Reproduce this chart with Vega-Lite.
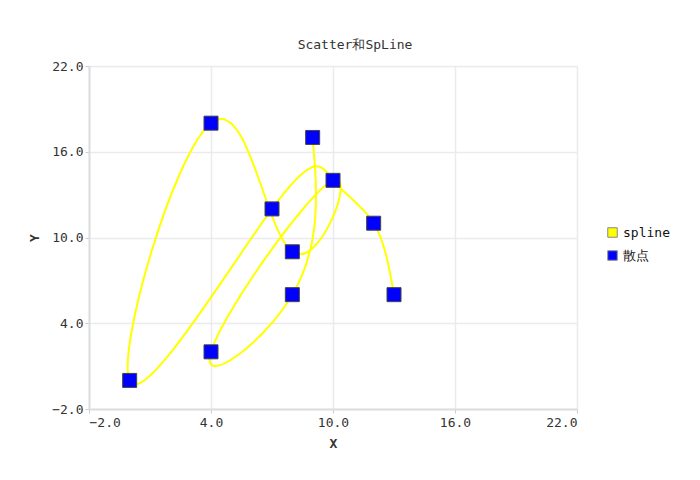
{
  "$schema": "https://vega.github.io/schema/vega-lite/v6.json",
  "autosize": "none",
  "width": 488,
  "height": 343,
  "padding": {"left": 89, "top": 66, "right": 123, "bottom": 71},
  "background": "white",
  "config": {
    "font": "DejaVu Sans Mono",
    "view": {"stroke": null},
    "axis": {
      "labelFont": "DejaVu Sans Mono",
      "labelFontSize": 13,
      "labelColor": "#333333",
      "titleFont": "DejaVu Sans Mono",
      "titleFontSize": 13,
      "titleFontWeight": "bold",
      "titleColor": "#333333",
      "gridColor": "#ebebeb",
      "gridWidth": 1.5,
      "domainColor": "#dddddd",
      "domainWidth": 2,
      "tickColor": "#cccccc",
      "tickSize": 4
    }
  },
  "title": {"text": "Scatter和SpLine", "font": "DejaVu Sans Mono", "fontSize": 13, "fontWeight": "normal", "color": "#333333", "anchor": "middle", "dx": 22, "offset": 8},
  "datasets": {
    "spline": [
      {"i": 1, "x": 9, "y": 17, "series": "spline"},
      {"i": 2, "x": 8, "y": 6, "series": "spline"},
      {"i": 3, "x": 4, "y": 2, "series": "spline"},
      {"i": 4, "x": 10, "y": 14, "series": "spline"},
      {"i": 5, "x": 8, "y": 9, "series": "spline"},
      {"i": 6, "x": 4, "y": 18, "series": "spline"},
      {"i": 7, "x": 0, "y": 0, "series": "spline"},
      {"i": 8, "x": 7, "y": 12, "series": "spline"},
      {"i": 9, "x": 10, "y": 14, "series": "spline"},
      {"i": 10, "x": 12, "y": 11, "series": "spline"},
      {"i": 11, "x": 13, "y": 6, "series": "spline"}
    ],
    "scatter": [
      {"x": 0, "y": 0, "series": "散点"},
      {"x": 4, "y": 18, "series": "散点"},
      {"x": 4, "y": 2, "series": "散点"},
      {"x": 7, "y": 12, "series": "散点"},
      {"x": 8, "y": 9, "series": "散点"},
      {"x": 8, "y": 6, "series": "散点"},
      {"x": 9, "y": 17, "series": "散点"},
      {"x": 10, "y": 14, "series": "散点"},
      {"x": 12, "y": 11, "series": "散点"},
      {"x": 13, "y": 6, "series": "散点"}
    ]
  },
  "encoding": {
    "x": {"field": "x", "type": "quantitative", "title": "X",
      "scale": {"domain": [-2, 22], "nice": false, "zero": false},
      "axis": {"values": [-2, 4, 10, 16, 22], "format": ".1f", "titlePadding": 8, "labelPadding": 3}},
    "y": {"field": "y", "type": "quantitative", "title": "Y",
      "scale": {"domain": [-2, 22], "nice": false, "zero": false},
      "axis": {"values": [-2, 4, 10, 16, 22], "format": ".1f", "titlePadding": 10, "labelPadding": 2}}
  },
  "layer": [
    {"data": {"name": "spline"}, "mark": {"type": "line", "interpolate": "natural", "stroke": "#ffff00", "strokeWidth": 2},
      "encoding": {"order": {"field": "i", "type": "quantitative"}}},
    {"data": {"name": "scatter"}, "mark": {"type": "square", "filled": true, "size": 196, "stroke": "#444444", "strokeWidth": 1, "opacity": 1},
      "encoding": {"fill": {"field": "series", "type": "nominal", "scale": {"domain": ["spline", "散点"], "range": ["#ffff00", "#0000ff"]},
        "legend": {"title": null, "orient": "none", "legendX": 517, "legendY": 160, "symbolType": "square", "symbolSize": 90, "symbolStrokeColor": "#888888", "symbolStrokeWidth": 1, "labelFont": "DejaVu Sans Mono", "labelFontSize": 13, "labelColor": "#111111", "rowPadding": 8, "labelOffset": 4}}}}
  ]
}
